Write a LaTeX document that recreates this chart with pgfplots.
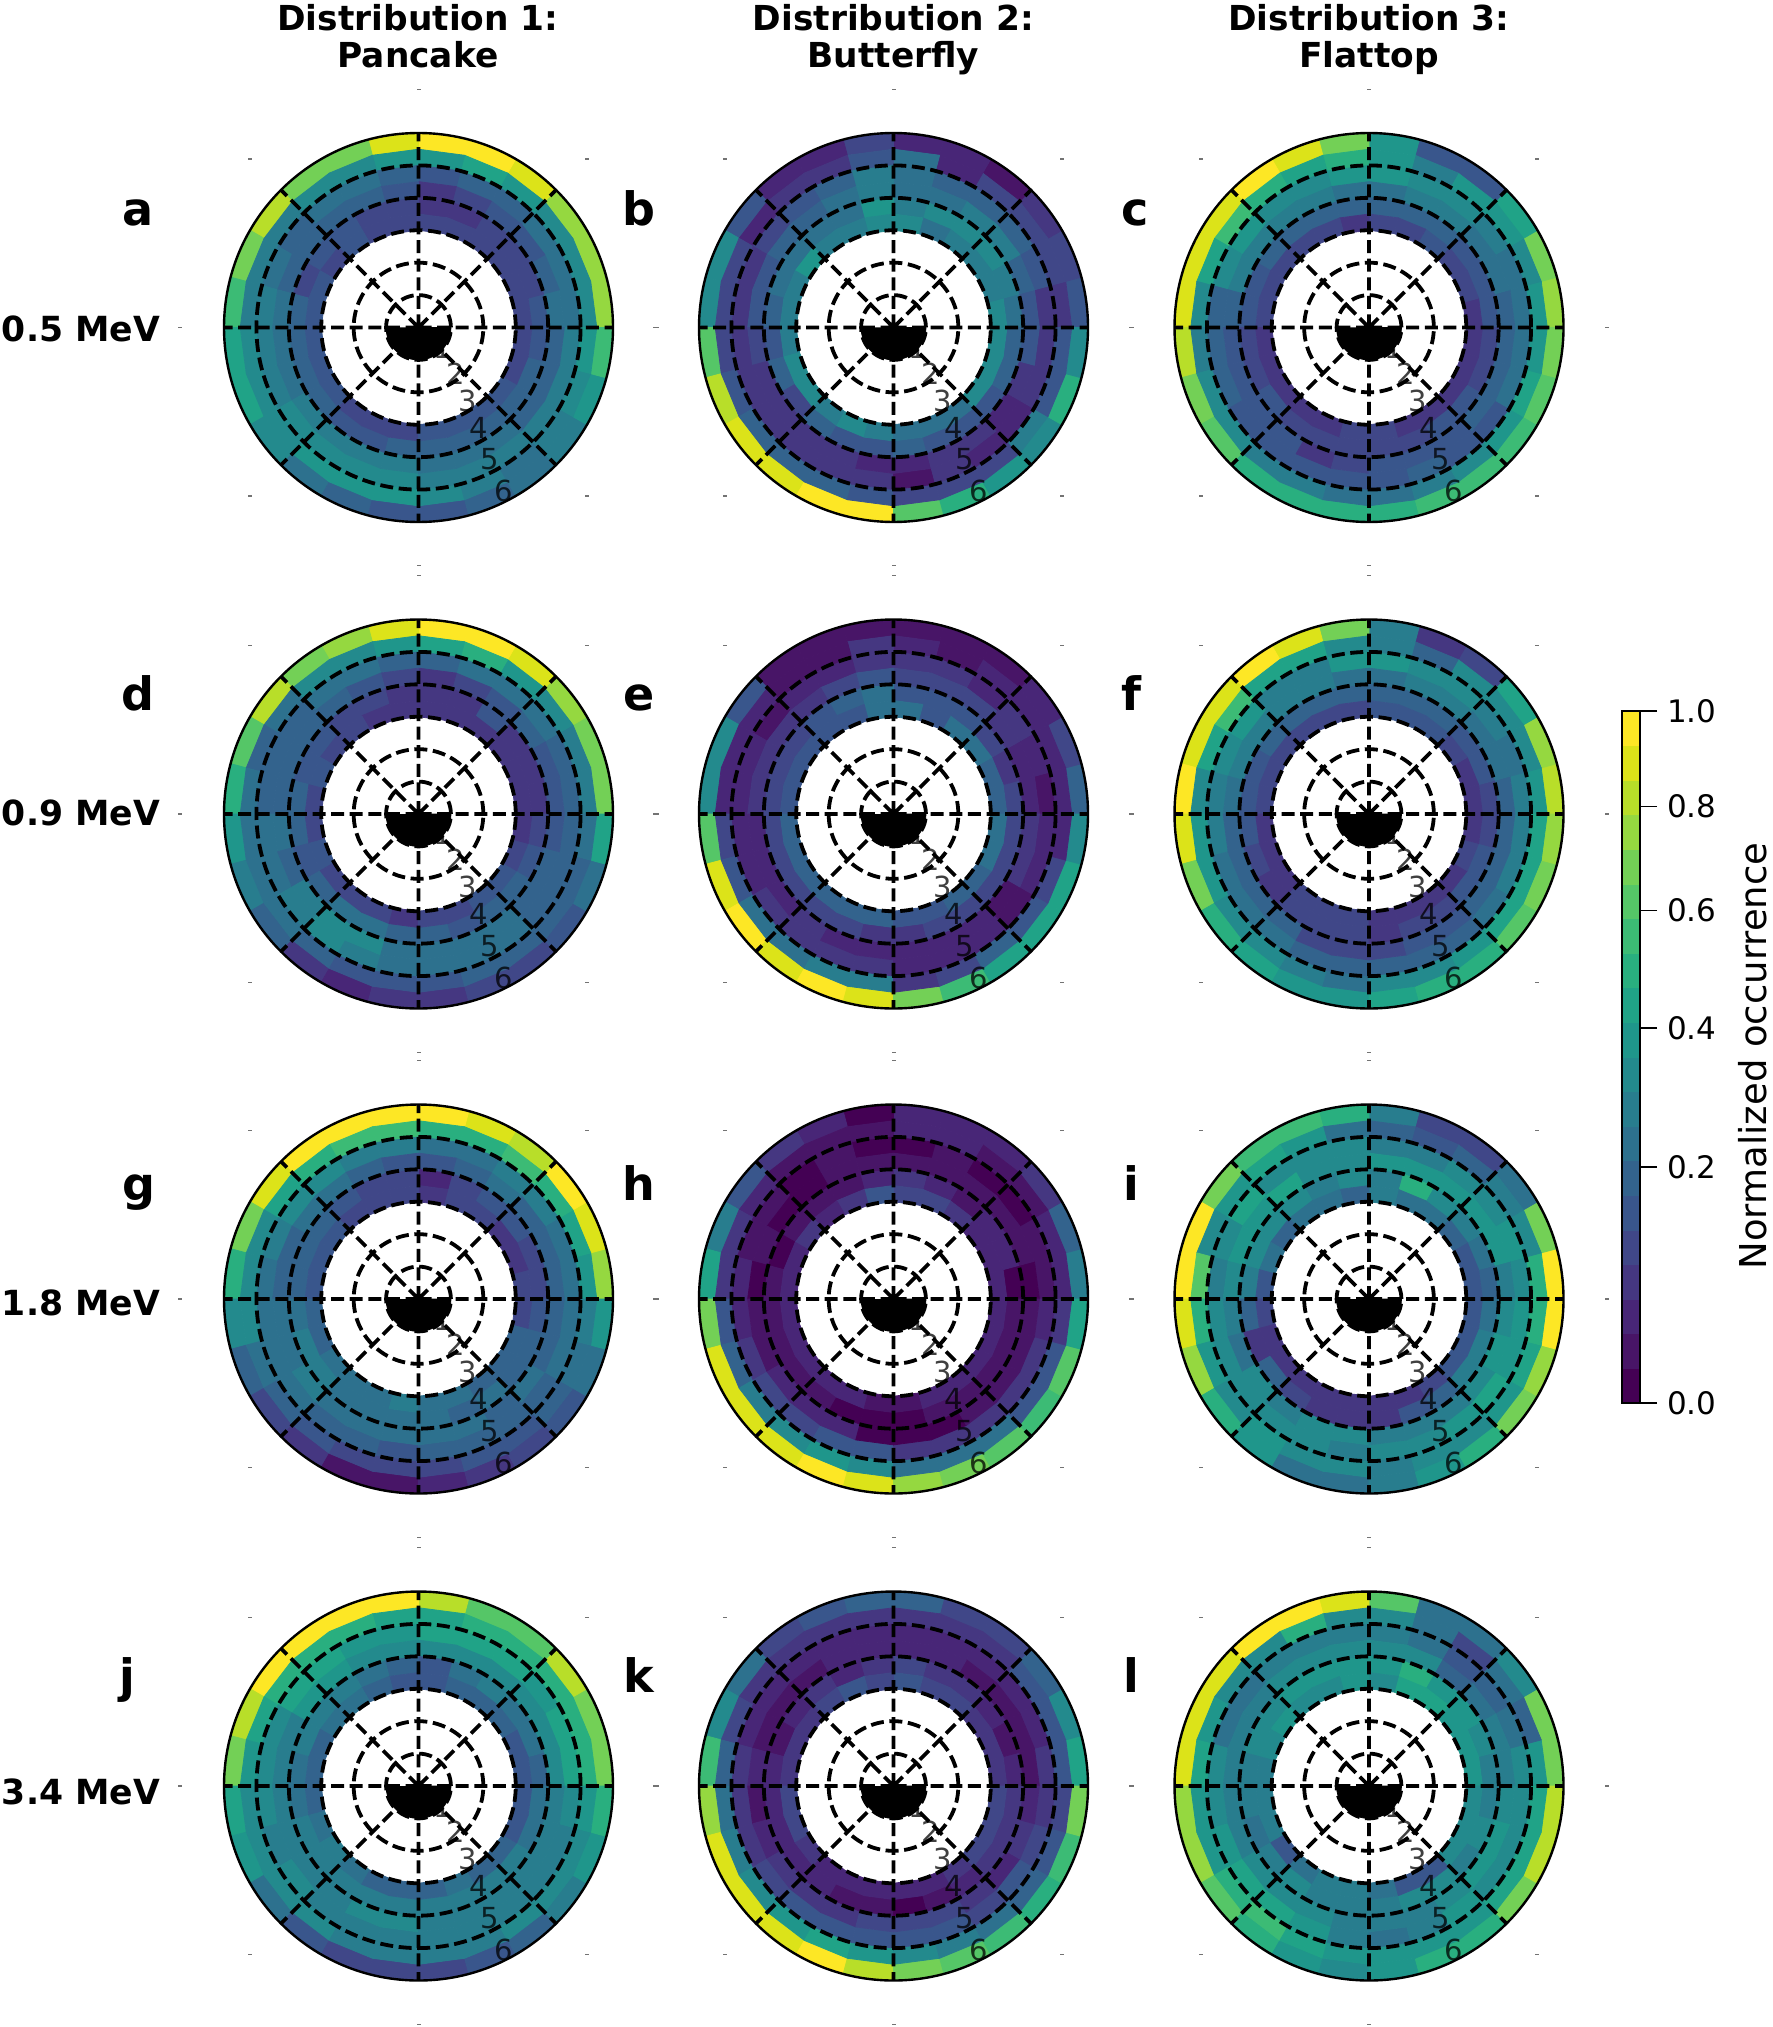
\documentclass[border=0pt]{standalone}
\usepackage{fontspec}
\setmainfont{DejaVu Sans}
\usepackage{pgfplots}
\usepgfplotslibrary{polar}
\pgfplotsset{compat=1.18}
\pgfplotsset{colormap={vir20}{[1cm]
 rgb255(0cm)=(68,1,84) rgb255(1cm)=(72,21,103) rgb255(2cm)=(72,38,119) rgb255(3cm)=(69,55,129)
 rgb255(4cm)=(64,71,136) rgb255(5cm)=(57,86,140) rgb255(6cm)=(51,99,141) rgb255(7cm)=(45,113,142)
 rgb255(8cm)=(40,125,142) rgb255(9cm)=(35,138,141) rgb255(10cm)=(31,150,139) rgb255(11cm)=(32,163,135)
 rgb255(12cm)=(41,175,127) rgb255(13cm)=(60,187,117) rgb255(14cm)=(85,198,103) rgb255(15cm)=(115,208,86)
 rgb255(16cm)=(149,216,64) rgb255(17cm)=(184,222,41) rgb255(18cm)=(220,227,25) rgb255(19cm)=(253,231,37)}}
\def\rr#1{\ifcase#1 6.055\or 5.5\or 5\or 4.5\or 4\or 3.5\or 3\fi}
% #1 = rows of occurrence levels (colour-bar step 0..19), outer ring first, 24 sectors counter-clockwise from East
\newcommand\buildcells[1]{%
 \gdef\cellcoords{}%
 \foreach \row [count=\ri from 0] in {#1} {%
  \foreach \v [count=\sj from 0] in \row {%
   \xdef\cellcoords{\cellcoords
    (\the\numexpr15*\sj\relax,\rr{\the\numexpr\ri+1\relax})[\v]
    (\the\numexpr15*\sj+15\relax,\rr{\the\numexpr\ri+1\relax})[\v]
    (\the\numexpr15*\sj+15\relax,\rr{\ri})[\v]
    (\the\numexpr15*\sj\relax,\rr{\ri})[\v]}%
  }}}
\newcommand\panel[3]{%
 \buildcells{#3}%
 \begin{polaraxis}[at={({#1*0.5pt},{-#2*0.5pt})},anchor=center,width=194.5pt,height=194.5pt,scale only axis,
   ymin=0,ymax=6,xmin=0,xmax=360,ytick={1,2,3,4,5},xtick={0,45,90,135,180,225,270,315},
   xticklabels={},yticklabels={},major tick length=0pt,tick style={draw=none},
   grid=major,major grid style={black,line width=1.9pt,dash pattern=on 6.5pt off 2.8pt},
   x axis line style={black,line width=1.2pt},y axis line style={draw=none},axis on top,clip mode=individual,
   colormap name=vir20,point meta min=0,point meta max=19]
  \edef\temp{\noexpand\addplot[patch,patch type=rectangle,shader=flat,point meta=explicit,forget plot] coordinates {\cellcoords};}\temp
  \addplot[fill=black,draw=black,forget plot] coordinates {(180,1)(185,1)(190,1)(195,1)(200,1)(205,1)(210,1)(215,1)(220,1)(225,1)(230,1)(235,1)(240,1)(245,1)(250,1)(255,1)(260,1)(265,1)(270,1)(275,1)(280,1)(285,1)(290,1)(295,1)(300,1)(305,1)(310,1)(315,1)(320,1)(325,1)(330,1)(335,1)(340,1)(345,1)(350,1)(355,1)(360,1)(0,0)};
  \pgfplotsinvokeforeach{0,45,90,135,180,225,270,315}{\node[fill=black!55,inner sep=0pt,minimum width=2pt,minimum height=0.7pt] at (axis cs:##1,7.35) {};}
  \node[font=\fontsize{14.5}{14.5}\selectfont,text=black,opacity=.75,inner sep=0pt] at (axis cs:-40,0.98) {1};
  \node[font=\fontsize{14.5}{14.5}\selectfont,text=black,opacity=.75,inner sep=0pt] at (axis cs:-51,1.82) {2};
  \node[font=\fontsize{14.5}{14.5}\selectfont,text=black,opacity=.75,inner sep=0pt] at (axis cs:-56.3,2.72) {3};
  \node[font=\fontsize{14.5}{14.5}\selectfont,text=black,opacity=.75,inner sep=0pt] at (axis cs:-59.2,3.6) {4};
  \node[font=\fontsize{14.5}{14.5}\selectfont,text=black,opacity=.75,inner sep=0pt] at (axis cs:-61.6,4.63) {5};
  \node[font=\fontsize{14.5}{14.5}\selectfont,text=black,opacity=.75,inner sep=0pt] at (axis cs:-62.6,5.68) {6};
 \end{polaraxis}}
\begin{document}
\begin{tikzpicture}
\useasboundingbox (0,0) rectangle (886pt,-1013.5pt);
\panel{418.5}{327.5}{
{16,16,16,18,19,19,18,15,15,17,15,13,11,11,9,7,6,5,5,6,7,8,10,13},
{9,9,9,10,11,10,10,9,9,8,8,8,9,9,9,10,10,10,9,8,7,8,9,10},
{7,7,7,6,6,5,6,7,7,6,7,8,8,8,9,9,9,9,8,8,8,8,8,8},
{7,6,5,5,4,3,5,6,6,6,6,7,7,7,8,8,8,8,7,7,7,6,6,6},
{5,4,4,4,3,3,4,4,5,5,4,6,6,6,6,5,5,6,6,6,6,6,6,5},
{4,4,4,4,4,4,4,4,5,4,5,5,5,5,5,4,4,4,5,5,5,5,4,4}}
\panel{893.5}{327.5}{
{5,4,3,1,2,2,4,2,2,5,9,9,14,17,18,18,19,19,14,12,10,9,12,9},
{3,4,4,4,2,7,5,3,3,2,4,4,4,5,6,6,6,5,4,4,4,8,5,5},
{3,5,6,6,6,7,8,6,5,4,3,3,3,3,3,3,3,3,1,3,2,2,3,3},
{5,6,8,8,7,7,8,7,6,6,5,5,4,3,3,3,3,2,2,3,3,2,3,5},
{7,8,9,9,9,8,10,7,7,7,7,6,5,6,4,6,5,5,6,5,5,5,6,6},
{9,8,8,8,7,9,9,8,8,10,8,8,8,9,9,8,9,8,7,7,7,9,9,9}}
\panel{1369}{327.5}{
{16,15,11,5,5,10,15,18,19,18,18,18,17,15,14,12,12,12,12,13,13,13,14,15},
{10,9,10,10,8,10,12,11,12,13,11,9,8,9,9,8,8,7,7,8,9,10,11,10},
{7,7,8,9,9,10,10,9,9,10,9,6,6,6,5,5,5,5,5,6,5,5,7,7},
{6,7,7,8,8,7,7,8,8,8,8,6,5,5,5,5,3,4,5,5,5,6,6,6},
{5,5,5,6,6,6,6,6,6,6,5,5,4,4,5,4,4,4,4,4,5,5,4,4},
{3,4,4,5,4,4,3,4,4,4,4,4,3,3,3,3,3,4,4,3,3,3,3,3}}
\panel{418.5}{814}{
{15,15,16,18,19,19,18,16,15,17,14,12,10,8,6,3,2,3,3,4,4,5,7,11},
{8,8,9,10,12,11,10,9,9,7,6,7,7,7,7,6,5,5,5,6,6,6,6,7},
{6,6,7,7,7,6,6,7,7,6,6,6,7,7,8,9,8,7,7,7,7,6,6,6},
{5,5,6,5,4,3,4,5,6,6,6,6,7,6,8,9,9,7,7,7,7,6,6,5},
{3,3,3,5,3,3,3,4,4,5,5,6,6,5,6,7,7,6,6,5,6,6,5,4},
{3,3,3,3,3,3,3,3,4,4,5,4,4,5,4,4,4,3,4,4,5,5,4,3}}
\panel{893.5}{814}{
{6,4,2,1,1,1,1,1,1,5,9,9,14,18,19,18,19,18,15,13,11,11,11,9},
{2,2,2,2,1,2,3,1,1,2,2,2,4,5,7,7,8,8,3,4,6,5,4,2},
{1,2,3,2,3,3,3,2,2,1,2,2,2,2,3,3,3,3,2,2,2,1,2,2},
{2,2,3,4,4,4,5,4,3,3,3,3,2,2,2,3,2,2,2,2,2,1,3,3},
{4,3,4,5,5,5,7,6,5,4,4,4,4,4,4,4,4,3,3,4,4,4,4,4},
{6,6,7,7,5,7,7,5,5,5,5,5,6,6,6,6,6,6,5,5,6,6,7,7}}
\panel{1369}{814}{
{17,16,11,4,3,8,15,18,19,18,18,19,18,15,12,11,10,10,11,12,12,14,15,16},
{10,9,9,9,6,8,9,11,11,13,11,9,10,10,9,9,8,7,9,9,10,11,11,11},
{8,7,8,9,9,10,10,8,8,10,9,8,8,7,7,7,6,6,6,6,6,7,8,8},
{6,7,7,8,8,7,7,8,8,8,8,7,6,6,6,6,4,4,4,5,5,6,6,6},
{4,5,5,6,6,6,6,6,6,6,5,5,5,4,3,4,4,4,3,4,4,5,5,4},
{3,3,4,5,5,5,4,4,4,4,4,4,3,3,3,4,4,4,3,3,3,3,4,3}}
\panel{418.5}{1299}{
{16,18,19,17,18,19,19,19,19,18,15,12,9,6,4,3,1,1,2,3,4,5,7,10},
{10,11,12,13,12,12,13,13,12,11,9,9,9,7,6,5,4,4,4,5,5,6,7,8},
{7,7,8,8,7,7,8,8,9,9,8,7,7,7,7,6,6,5,6,6,6,6,7,7},
{6,6,6,7,6,5,5,6,7,7,6,6,7,7,8,7,7,7,7,7,6,7,6,6},
{4,4,5,5,4,2,4,4,5,6,6,6,7,8,8,7,7,7,7,6,7,6,6,5},
{4,3,3,4,4,3,4,4,4,5,5,5,6,6,7,7,7,8,7,7,6,6,6,4}}
\panel{893.5}{1299}{
{8,6,3,2,2,2,0,2,3,5,8,11,15,18,18,18,19,18,16,15,14,13,14,11},
{2,2,1,1,2,2,1,1,1,2,3,3,5,6,8,9,10,9,7,7,7,5,5,3},
{1,1,0,0,1,0,0,1,0,1,1,2,2,3,4,4,5,5,3,3,3,3,3,2},
{0,1,1,1,1,1,1,1,0,0,1,0,1,1,2,2,2,0,0,0,1,1,1,1},
{0,2,2,1,2,3,2,1,1,1,0,1,1,1,1,1,0,0,0,1,1,1,1,1},
{2,2,2,3,4,4,5,3,2,3,2,2,2,2,2,2,2,1,1,2,2,2,2,2}}
\panel{1369}{1299}{
{19,15,7,4,4,8,12,13,13,15,19,19,18,16,12,10,7,7,8,10,12,15,16,19},
{12,9,8,6,5,6,7,10,11,10,9,14,12,10,9,10,9,9,8,9,9,10,11,12},
{9,10,9,9,8,8,9,9,9,11,9,8,9,9,9,9,9,8,9,9,10,11,10,10},
{8,10,10,10,10,10,9,9,11,10,10,9,8,7,9,8,9,9,8,8,8,9,10,9},
{6,7,8,9,12,8,9,8,9,9,9,8,6,3,6,4,3,3,3,5,6,8,8,7},
{5,5,6,7,7,8,6,7,7,6,7,5,4,3,3,3,3,3,3,3,4,5,5,5}}
\panel{418.5}{1786}{
{15,15,17,14,14,17,19,19,19,19,17,15,11,10,7,5,4,4,4,5,6,8,10,12},
{12,12,12,12,12,11,11,12,12,12,11,10,9,9,9,9,8,8,8,8,9,9,9,10},
{11,11,10,11,11,11,10,10,11,11,9,9,9,8,9,8,8,8,8,8,8,8,8,9},
{9,9,9,9,9,9,9,9,10,10,8,8,8,8,8,8,9,9,8,8,8,8,8,8},
{6,7,7,8,7,5,6,7,8,8,8,7,7,8,8,8,8,8,8,8,8,8,7,7},
{5,5,6,6,6,5,5,6,7,7,6,6,6,7,8,7,6,6,6,7,6,6,5,5}}
\panel{893.5}{1786}{
{11,9,6,4,4,6,6,5,4,7,9,13,16,18,18,18,19,17,15,14,13,12,13,15},
{5,5,5,3,3,3,3,3,3,3,4,6,7,8,9,10,11,10,9,8,7,6,5,4},
{3,2,2,2,2,2,2,2,2,2,2,3,3,3,4,5,5,5,5,5,4,5,4,3},
{1,1,1,1,2,2,2,2,1,1,1,2,1,2,3,3,3,4,4,4,3,2,3,2},
{2,1,2,3,3,4,3,2,3,2,1,2,2,2,2,2,1,1,0,1,2,3,3,3},
{3,3,3,4,4,5,4,5,4,3,3,3,4,4,3,2,2,2,2,2,3,4,4,4}}
\panel{1369}{1786}{
{15,15,9,7,7,14,18,19,19,18,18,18,16,16,14,12,10,9,10,12,12,15,17,17},
{10,6,7,4,7,9,9,12,9,9,10,11,10,10,12,13,11,10,10,10,10,11,11,11},
{9,7,6,5,7,8,8,8,8,7,7,9,9,10,11,11,10,8,7,8,10,9,9,9},
{8,8,7,6,9,9,9,9,9,8,8,8,8,8,9,9,9,8,8,8,9,10,10,9},
{8,9,10,10,12,10,10,10,10,9,9,8,8,7,8,9,8,8,8,9,9,8,9,8},
{10,10,10,11,11,9,10,9,9,10,9,8,8,8,5,7,8,8,7,5,5,9,9,9}}
% colour bar
\gdef\barcoords{}
\foreach \i in {0,...,19}{\xdef\barcoords{\barcoords (0,\i)[\i] (1,\i)[\i] (1,\the\numexpr\i+1\relax)[\i] (0,\the\numexpr\i+1\relax)[\i]}}
\begin{axis}[at={(811pt,-701.5pt)},anchor=south west,width=9pt,height=346pt,scale only axis,
  xmin=0,xmax=1,ymin=0,ymax=20,xtick=\empty,ytick={0,6.82,10.84,14.24,17.24,20},
  yticklabels={0.0,0.2,0.4,0.6,0.8,1.0},ytick pos=right,yticklabel pos=right,tick align=outside,
  major tick length=8.5pt,tick style={black,line width=0.8pt},axis line style={black,line width=1pt},
  yticklabel style={font=\fontsize{15.5}{15.5}\selectfont,xshift=1.5pt},
  /pgf/number format/assume math mode=true,axis on top,
  colormap name=vir20,point meta min=0,point meta max=19]
 \edef\temp{\noexpand\addplot[patch,patch type=rectangle,shader=flat,point meta=explicit,forget plot] coordinates {\barcoords};}\temp
\end{axis}
\node[rotate=90,inner sep=0pt,font=\fontsize{18.5}{18.5}\selectfont] at (876.5pt,-528pt) {Normalized occurrence};
% titles
\foreach \x/\a/\b in {418/{Distribution 1:}/Pancake,893.5/{Distribution 2:}/Butterfly,1369/{Distribution 3:}/Flattop}{
 \node[anchor=base,font=\fontsize{17.2}{17.2}\selectfont\bfseries] at ({\x*0.5pt},{-31*0.5pt}) {\a};
 \node[anchor=base,font=\fontsize{17.2}{17.2}\selectfont\bfseries] at ({\x*0.5pt},{-68*0.5pt}) {\b};}
\foreach \y/\t in {329/0.5 MeV,813/0.9 MeV,1303/1.8 MeV,1792/3.4 MeV}{
 \node[font=\fontsize{17.3}{17.3}\selectfont\bfseries] at ({81*0.5pt},{-\y*0.5pt}) {\t};}
\foreach \x/\y/\t in {138/226/a,639/226/b,1135/226/c,138/710/d,639/710/e,1131/710/f,139/1200/g,639/1200/h,1131/1200/i,127/1692/j,639/1692/k,1131/1692/l}{
 \node[anchor=base,font=\fontsize{23}{23}\selectfont\bfseries] at ({\x*0.5pt},{-\y*0.5pt}) {\t};}
\end{tikzpicture}
\end{document}
